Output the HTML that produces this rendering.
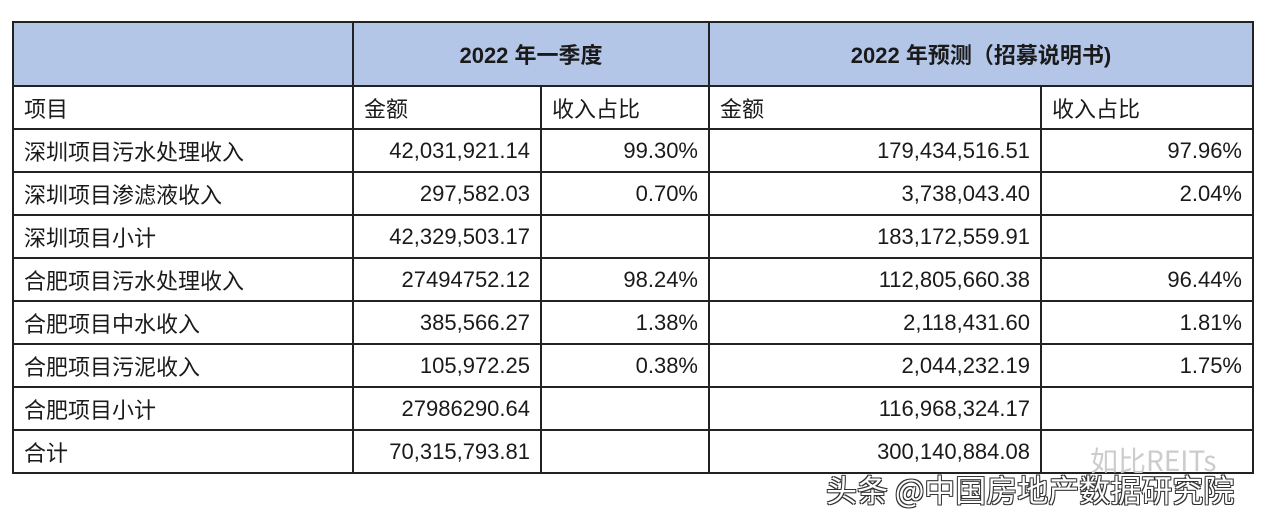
<!DOCTYPE html>
<html><head><meta charset="utf-8"><style>
body{margin:0;width:1268px;height:514px;background:#fff;position:relative;overflow:hidden;font-family:"Liberation Sans","Noto Sans CJK SC",sans-serif;color:#1a1a1a}
table{position:absolute;left:12px;top:21px;border-collapse:collapse;table-layout:fixed;font-size:22px}
td{border:2px solid #222;padding:0 10px;height:41px;white-space:nowrap;overflow:hidden}
.h td{background:#b4c6e7;height:62px;font-weight:bold;text-align:center}
.r{text-align:right}
.wm{position:absolute;font-family:"Noto Sans CJK SC",sans-serif;white-space:nowrap}
</style></head><body>
<table>
<colgroup><col style="width:340px"><col style="width:188px"><col style="width:168px"><col style="width:332px"><col style="width:212px"></colgroup>
<tr class="h"><td></td><td colspan="2">2022 年一季度</td><td colspan="2">2022 年预测（招募说明书)</td></tr>
<tr><td>项目</td><td>金额</td><td>收入占比</td><td>金额</td><td>收入占比</td></tr>
<tr><td>深圳项目污水处理收入</td><td class="r">42,031,921.14</td><td class="r">99.30%</td><td class="r">179,434,516.51</td><td class="r">97.96%</td></tr>
<tr><td>深圳项目渗滤液收入</td><td class="r">297,582.03</td><td class="r">0.70%</td><td class="r">3,738,043.40</td><td class="r">2.04%</td></tr>
<tr><td>深圳项目小计</td><td class="r">42,329,503.17</td><td></td><td class="r">183,172,559.91</td><td></td></tr>
<tr><td>合肥项目污水处理收入</td><td class="r">27494752.12</td><td class="r">98.24%</td><td class="r">112,805,660.38</td><td class="r">96.44%</td></tr>
<tr><td>合肥项目中水收入</td><td class="r">385,566.27</td><td class="r">1.38%</td><td class="r">2,118,431.60</td><td class="r">1.81%</td></tr>
<tr><td>合肥项目污泥收入</td><td class="r">105,972.25</td><td class="r">0.38%</td><td class="r">2,044,232.19</td><td class="r">1.75%</td></tr>
<tr><td>合肥项目小计</td><td class="r">27986290.64</td><td></td><td class="r">116,968,324.17</td><td></td></tr>
<tr><td>合计</td><td class="r">70,315,793.81</td><td></td><td class="r">300,140,884.08</td><td></td></tr>
</table>
<div class="wm" style="left:1090px;top:440px;font-size:28px;color:#ccc">如比REITs</div>
<div class="wm" style="left:826px;top:466px;font-size:31px;color:#fff;text-shadow:1px 1px 0 #333,-1px -1px 0 #333,1px -1px 0 #333,-1px 1px 0 #333">头条 @中国房地产数据研究院</div>
</body></html>
